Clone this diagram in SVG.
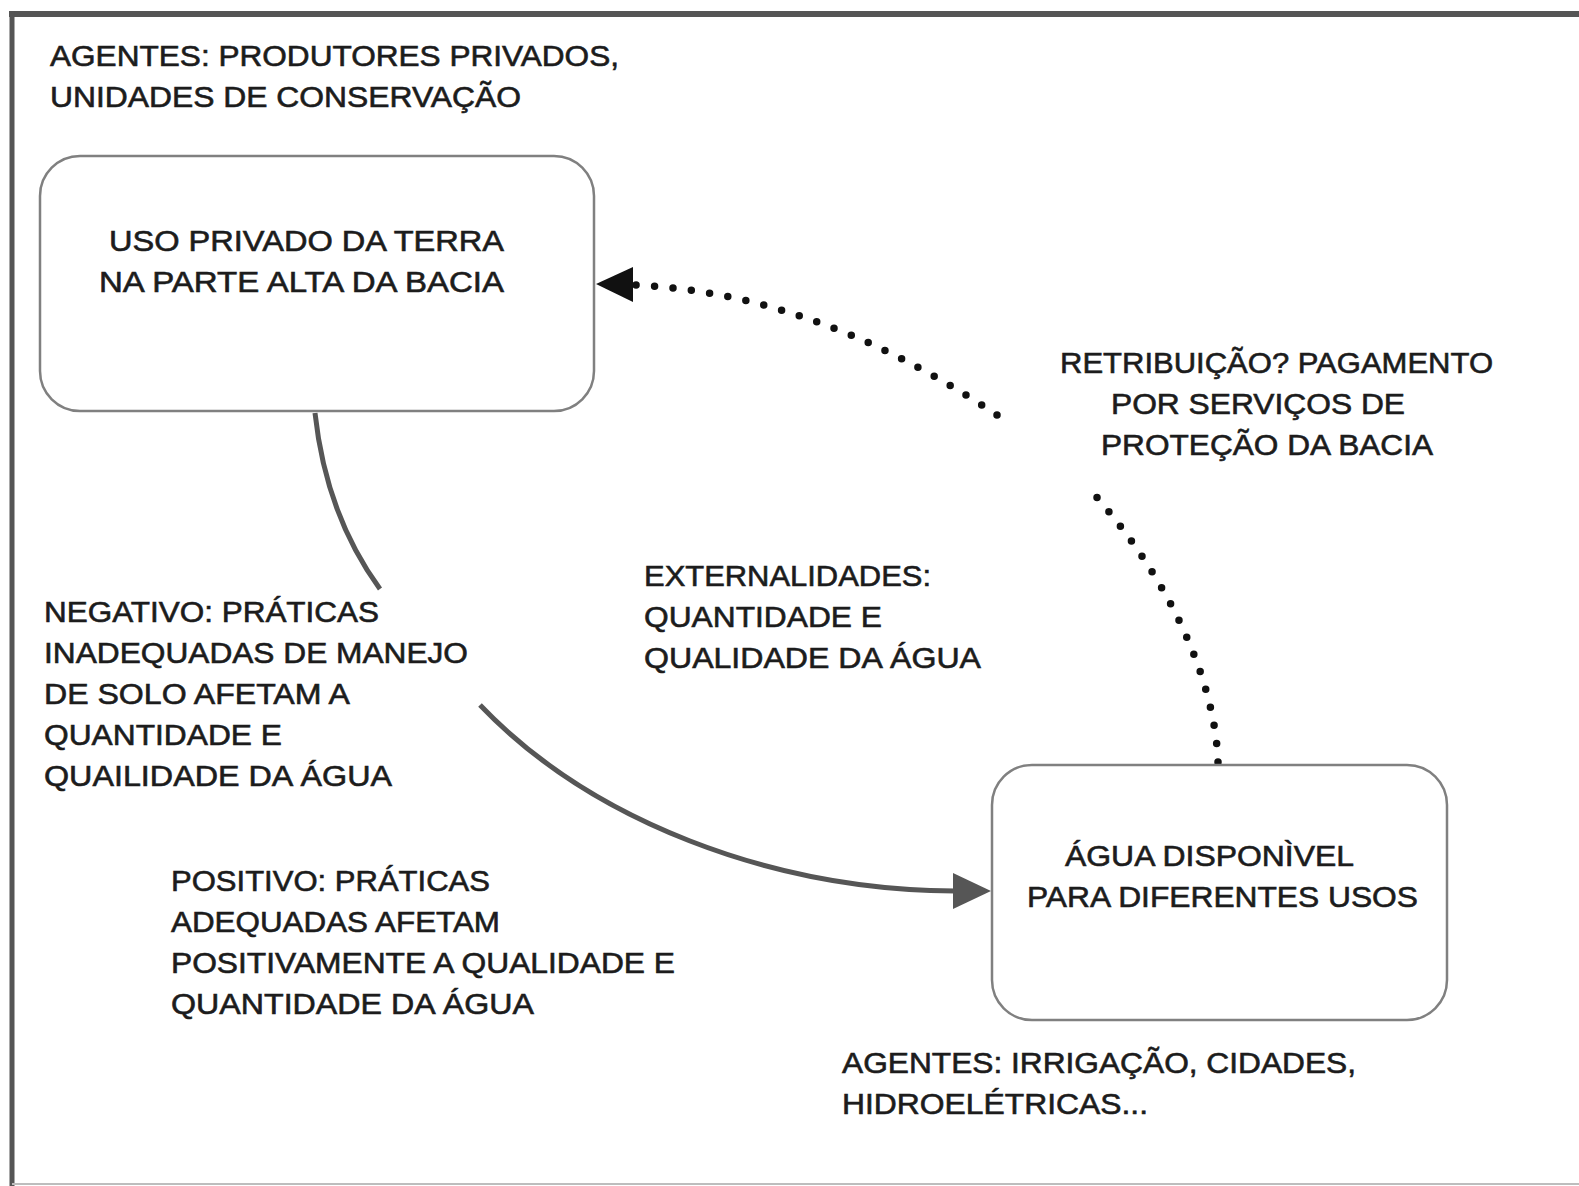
<svg xmlns="http://www.w3.org/2000/svg" width="1579" height="1186" viewBox="0 0 1579 1186">
<defs>
<style>
.t{font-family:"Liberation Sans",Arial,sans-serif;font-size:29px;fill:#1c1c1c;stroke:#1c1c1c;stroke-width:0.6;}
.box{fill:#fff;stroke:#808080;stroke-width:2.5;}
.solid{fill:none;stroke:#565656;stroke-width:5;stroke-linecap:butt;}
.dot{fill:none;stroke:#111;stroke-width:7.5;stroke-linecap:round;stroke-dasharray:0 18.5;}
</style>
</defs>
<rect x="0" y="0" width="1579" height="1186" fill="#fff"/>
<g id="frame">
<line x1="9" y1="14" x2="1579" y2="14" stroke="#555" stroke-width="6"/>
<line x1="12" y1="11" x2="12" y2="1186" stroke="#555" stroke-width="5"/>
<line x1="12" y1="1184" x2="1579" y2="1184" stroke="#bdbdbd" stroke-width="2"/>
</g>
<g id="connectors">
<path class="solid" d="M 315 413 Q 326 515 380 589"/>
<path class="solid" d="M 480 705 C 590 820 770 890 955 891"/>
<polygon points="953,873 991,891 953,909" fill="#565656"/>
<path class="dot" d="M 1218 762 C 1215 680 1170 580 1093 493"/>
<path class="dot" d="M 997 415 C 900 350 780 292 636 285"/>
<polygon points="596,284 633,267 633,302" fill="#111"/>
</g>
<g id="label-agentes-top">
<text class="t" x="50" y="66" textLength="569" lengthAdjust="spacingAndGlyphs">AGENTES: PRODUTORES PRIVADOS,</text>
<text class="t" x="50" y="107" textLength="471" lengthAdjust="spacingAndGlyphs">UNIDADES DE CONSERVAÇÃO</text>
</g>
<g id="node-uso-privado">
<rect class="box" x="40" y="156" width="554" height="255" rx="40" ry="40"/>
<text class="t" x="109" y="251" textLength="395" lengthAdjust="spacingAndGlyphs">USO PRIVADO DA TERRA</text>
<text class="t" x="99" y="292" textLength="405" lengthAdjust="spacingAndGlyphs">NA PARTE ALTA DA BACIA</text>
</g>
<g id="label-retribuicao">
<text class="t" x="1060" y="373" textLength="433" lengthAdjust="spacingAndGlyphs">RETRIBUIÇÃO? PAGAMENTO</text>
<text class="t" x="1111" y="414" textLength="294" lengthAdjust="spacingAndGlyphs">POR SERVIÇOS DE</text>
<text class="t" x="1101" y="455" textLength="332" lengthAdjust="spacingAndGlyphs">PROTEÇÃO DA BACIA</text>
</g>
<g id="label-externalidades">
<text class="t" x="644" y="586" textLength="287" lengthAdjust="spacingAndGlyphs">EXTERNALIDADES:</text>
<text class="t" x="644" y="627" textLength="238" lengthAdjust="spacingAndGlyphs">QUANTIDADE E</text>
<text class="t" x="644" y="668" textLength="337" lengthAdjust="spacingAndGlyphs">QUALIDADE DA ÁGUA</text>
</g>
<g id="label-negativo">
<text class="t" x="44" y="622" textLength="335" lengthAdjust="spacingAndGlyphs">NEGATIVO: PRÁTICAS</text>
<text class="t" x="44" y="663" textLength="424" lengthAdjust="spacingAndGlyphs">INADEQUADAS DE MANEJO</text>
<text class="t" x="44" y="704" textLength="306" lengthAdjust="spacingAndGlyphs">DE SOLO AFETAM A</text>
<text class="t" x="44" y="745" textLength="238" lengthAdjust="spacingAndGlyphs">QUANTIDADE E</text>
<text class="t" x="44" y="786" textLength="348" lengthAdjust="spacingAndGlyphs">QUAILIDADE DA ÁGUA</text>
</g>
<g id="label-positivo">
<text class="t" x="171" y="891" textLength="319" lengthAdjust="spacingAndGlyphs">POSITIVO: PRÁTICAS</text>
<text class="t" x="171" y="932" textLength="329" lengthAdjust="spacingAndGlyphs">ADEQUADAS AFETAM</text>
<text class="t" x="171" y="973" textLength="504" lengthAdjust="spacingAndGlyphs">POSITIVAMENTE A QUALIDADE E</text>
<text class="t" x="171" y="1014" textLength="363" lengthAdjust="spacingAndGlyphs">QUANTIDADE DA ÁGUA</text>
</g>
<g id="node-agua-disponivel">
<rect class="box" x="992" y="765" width="455" height="255" rx="40" ry="40"/>
<text class="t" x="1065" y="866" textLength="289" lengthAdjust="spacingAndGlyphs">ÁGUA DISPONÌVEL</text>
<text class="t" x="1027" y="907" textLength="391" lengthAdjust="spacingAndGlyphs">PARA DIFERENTES USOS</text>
</g>
<g id="label-agentes-bottom">
<text class="t" x="842" y="1073" textLength="514" lengthAdjust="spacingAndGlyphs">AGENTES: IRRIGAÇÃO, CIDADES,</text>
<text class="t" x="842" y="1114" textLength="306" lengthAdjust="spacingAndGlyphs">HIDROELÉTRICAS...</text>
</g>
</svg>
